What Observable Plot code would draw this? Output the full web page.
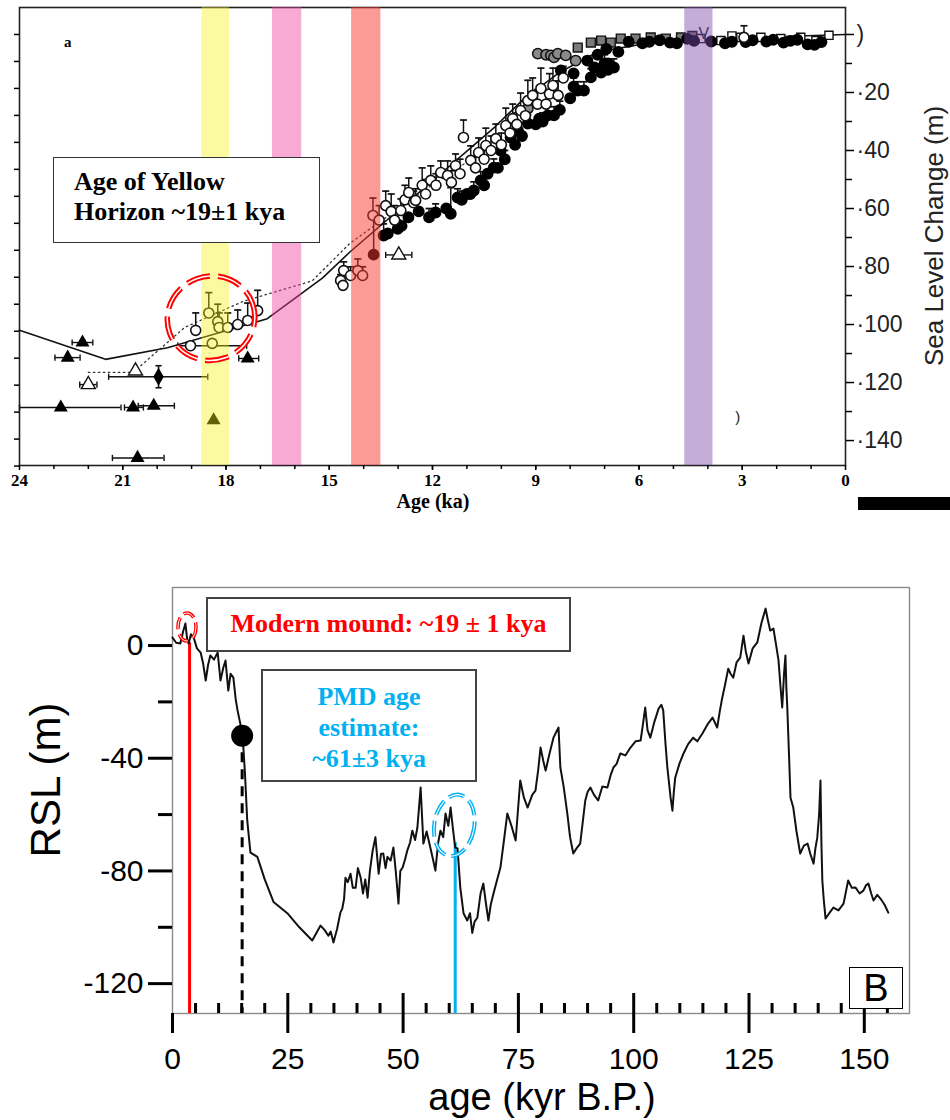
<!DOCTYPE html>
<html>
<head>
<meta charset="utf-8">
<script src="https://cdn.jsdelivr.net/npm/d3@7"></script>
<script src="https://cdn.jsdelivr.net/npm/@observablehq/plot@0.6"></script>
<style>
  html, body { margin: 0; padding: 0; background: #fff; }
  #page { position: relative; width: 950px; height: 1120px; overflow: hidden; }
  .layer { position: absolute; left: 0; }
  .note { position: absolute; box-sizing: border-box; background: #fff; font-family: "Liberation Serif", "Times New Roman", serif; font-weight: bold; }
  .txt { position: absolute; white-space: nowrap; }
</style>
</head>
<body>
<div id="page">
  <div id="topChart" class="layer" style="top:0"></div>
  <div id="bottomChart" class="layer" style="top:560px"></div>

  <div class="txt" style="left:64px;top:34px;font:bold 15px 'Liberation Serif',serif;">a</div>
  <div class="note" style="left:53px;top:157px;width:267px;height:86px;border:1.5px solid #333;padding:9px 0 0 20px;font-size:26px;line-height:30px;">Age of Yellow<br>Horizon ~19±1 kya</div>
  <div class="txt" style="left:433px;top:490px;transform:translateX(-50%);font:bold 20px 'Liberation Serif',serif;">Age (ka)</div>
  <div class="txt" style="left:934px;top:236px;transform:translate(-50%,-50%) rotate(-90deg);font:26px 'Liberation Sans',Arial,sans-serif;color:#222;">Sea Level Change (m)</div>
  <div style="position:absolute;left:858px;top:497px;width:92px;height:13px;background:#000;"></div>

  <div class="note" style="left:206px;top:597px;width:365px;height:55px;border:2px solid #444;color:#ff0000;font-size:26px;line-height:50px;text-align:center;">Modern mound: ~19 ± 1 kya</div>
  <div class="note" style="left:261px;top:669px;width:216px;height:113px;border:2px solid #444;color:#00b0f0;font-size:26px;line-height:31px;padding-top:10px;text-align:center;">PMD age<br>estimate:<br>~61±3 kya</div>
  <div style="position:absolute;left:849px;top:967px;width:54px;height:42px;box-sizing:border-box;border:1.5px solid #000;background:#fff;font:38px 'Liberation Sans',Arial,sans-serif;line-height:40px;text-align:center;">B</div>
  <div class="txt" style="left:46px;top:780px;transform:translate(-50%,-50%) rotate(-90deg);font:42px 'Liberation Sans',Arial,sans-serif;">RSL (m)</div>
  <div class="txt" style="left:542px;top:1076px;transform:translateX(-50%);font:38px 'Liberation Sans',Arial,sans-serif;">age (kyr B.P.)</div>
</div>

<script>
// ---------- Panel a: deglacial sea-level change (ka vs. metres below present) ----------
const ageTicks = [24, 21, 18, 15, 12, 9, 6, 3, 0];
const depthTicks = [0, 20, 40, 60, 80, 100, 120, 140];
const depthLabels = [")", "·20", "·40", "·60", "·80", "·100", "·120", "·140"];

// shaded event bands [from ka, to ka]
const bandYellow = [18.7, 17.9];
const bandPink = [16.65, 15.8];
const bandRed = [14.35, 13.5];
const bandPurple = [4.67, 3.85];

// piecewise model curve
const modelAge = [24, 21.5, 19.7, 16.8, 15.2, 14.4, 10.2, 9.4, 8.3, 7.2, 5.5, 2.5, 0];
const modelDepth = [102, 112, 108, 98, 84, 75, 32, 22.8, 13, 6, 2.5, 1, 0];

// dotted reference curve
const dottedAge = [22.0, 20.7, 19.2, 17.5, 15.5, 14.4, 13.7, 12.4, 11.0];
const dottedDepth = [116.5, 116.5, 101, 92, 85, 72, 66, 55, 44];

// open circles: [age, depth, upper error]
const openCircles = [
  [18.88, 102, 6], [18.5, 96, 7], [18.24, 99, 6], [18.2, 101, 5], [17.95, 101, 5],
  [17.66, 100, 5], [17.37, 98.6, 6], [17.08, 95.2, 7], [19.03, 107.3, 0], [18.4, 106.5, 0],
  [14.67, 84.8, 2], [14.58, 81.4, 3], [14.38, 83.1, 3], [14.17, 81.4, 4], [14.03, 83.1, 3], [14.6, 86.5, 0],
  [13.73, 62.4, 6], [13.55, 64, 5], [13.36, 59, 5], [13.2, 61, 6], [13.1, 64, 5], [12.92, 60.7, 4],
  [12.8, 57, 5], [12.69, 54.5, 5], [12.55, 58, 4], [12.49, 57.2, 4], [12.3, 52, 6], [12.2, 55, 5],
  [12.05, 50.3, 5], [11.9, 52, 4], [11.76, 47.6, 4], [11.56, 48.6, 5], [11.45, 51, 4], [11.33, 45.2, 4],
  [11.2, 48, 5], [11.1, 35.5, 6], [10.89, 43.4, 5], [10.75, 46, 4], [10.66, 40.7, 5], [10.5, 43, 4],
  [10.45, 38.3, 6], [10.3, 40, 5], [10.16, 35.9, 5], [10.0, 38, 4], [9.87, 31.4, 6], [9.75, 34, 5],
  [9.67, 29, 5], [9.55, 31, 4], [9.44, 26.2, 6], [9.3, 28, 5], [9.23, 22.8, 7], [9.09, 21, 6],
  [8.95, 24, 5], [8.85, 18.6, 7], [8.7, 24, 5], [8.6, 20.5, 7], [8.5, 17.6, 6], [8.35, 21, 5],
  [8.2, 15, 4], [2.95, 1, 4]
];

// filled circles: [age, depth, upper error]
const filledCircles = [
  [13.71, 75.9, 13], [13.42, 69.3, 4], [13.3, 68.6, 0], [13.01, 67, 3], [12.9, 66, 0], [12.7, 63, 0],
  [12.4, 61, 0], [12.1, 63, 3], [11.91, 61.4, 3], [11.6, 60, 0], [11.47, 61.8, 9], [11.27, 56.2, 3],
  [11.15, 57, 3], [11.0, 55, 0], [10.9, 55, 0], [10.8, 53.8, 3], [10.6, 50.3, 3], [10.5, 52, 0],
  [10.4, 48, 0], [10.22, 45.9, 3], [10.1, 46, 0], [10.02, 40, 3], [9.9, 43, 3], [9.73, 35.5, 3],
  [9.6, 38, 0], [9.52, 33.1, 3], [9.4, 35, 0], [9.23, 30.7, 3], [9.0, 31, 0], [8.9, 29, 0],
  [8.8, 30, 3], [8.65, 27.9, 3], [8.47, 27.9, 3], [8.3, 26, 3], [8.0, 22, 0], [7.9, 18, 3],
  [7.78, 19.3, 3], [7.6, 19.3, 3], [7.4, 14.8, 3], [7.1, 13.1, 3], [7.0, 10, 3], [6.73, 11.4, 3],
  [6.9, 12.2, 0], [8.27, 12.4, 0], [7.9, 13.4, 0], [7.3, 11.4, 0], [6.9, 10, 0], [7.5, 9, 0],
  [7.2, 7, 0], [6.95, 5, 0], [6.6, 6, 0], [6.3, 2.5, 0], [5.9, 3, 0], [5.7, 2.5, 0], [5.4, 2, 0],
  [5.1, 2.8, 0], [4.9, 3, 0], [4.6, 1.5, 0], [4.4, 2.2, 0], [3.9, 2.4, 0], [3.5, 3, 0], [3.3, 2.5, 0],
  [2.9, 2.6, 0], [2.7, 2, 0], [2.3, 2.4, 0], [2.1, 1.8, 0], [1.8, 2.8, 0], [1.6, 2.2, 0], [1.4, 1.8, 0],
  [1.1, 3.4, 0], [0.9, 3.6, 0], [0.7, 2.6, 0]
];

// grey circles: [age, depth]
const greyCircles = [[8.94, 6.6], [8.7, 7], [8.56, 7.2], [8.47, 7.9], [8.36, 6.6], [8.13, 7.2], [7.84, 9], [9.23, 25.5]];

// squares (grey and open): [age, depth]
const greySquares = [
  [7.78, 4.5], [7.4, 2.8], [7.1, 2.1], [6.82, 2.8], [6.53, 1.4], [6.1, 1.4],
  [5.66, 1], [5.22, 1.4], [4.78, 1], [4.45, 0.5]
];
const openSquares = [
  [4.2, 1.4], [3.62, 2.1], [3.3, 0.5], [3.04, 1], [2.46, 1], [1.88, 1.4],
  [1.3, 1], [0.86, 2.1], [0.48, 0.3]
];

// triangles: [age, depth]
const filledTriangles = [
  [22.17, 106.2], [22.6, 111.4], [22.8, 128.6], [20.7, 128.6], [20.1, 128],
  [20.57, 146], [17.37, 111.7], [18.36, 133]
];
const openTriangles = [[20.63, 116], [22.0, 120.7], [12.98, 76]];
const diamonds = [[19.96, 118]];

// horizontal (age) error bars: [depth, from age, to age]
const ageErrors = [
  [106.2, 22.47, 21.87], [111.4, 22.97, 22.24], [128.6, 24, 21.05], [128.6, 20.95, 20.4],
  [128, 20.55, 19.5], [146, 21.3, 19.8], [111.7, 17.63, 17.05], [120.7, 22.25, 21.75],
  [118, 21.41, 18.53], [107.3, 19.4, 17.4], [76, 13.36, 12.6]
];
// vertical error bar on the diamond: [age, lower depth, upper depth]
const depthErrors = [[19.96, 121.8, 114.2]];

// ---------- Panel B: relative sea level over the last glacial cycle ----------
const rslAge = [
  0, 0.8, 1.7, 2.3, 2.8, 3.2, 3.5, 4.0, 4.6, 5.3, 6.1, 6.6, 7.2, 7.7, 8.2, 9.0, 9.8, 10.4, 11.0, 11.5,
  12.1, 12.6, 13.2, 13.7, 14.1, 14.7, 15.2, 15.7, 16.2, 16.9, 18.4, 20, 21.9, 24.9, 27.5, 30.3, 31.2, 32.1, 33.0, 33.8,
  34.3, 34.9, 35.7, 36.4, 36.8, 37.2, 37.5, 38.0, 38.6, 39.1, 39.7, 40.2, 40.8, 41.3, 41.8, 42.3, 42.8, 43.4, 44.0, 44.7,
  45.2, 45.7, 46.2, 46.6, 47.3, 47.9, 48.4, 49.0, 49.4, 49.9, 50.4, 50.9, 51.5, 52.0, 52.6, 53.1, 53.8, 54.4, 55.1, 55.9,
  56.5, 57.0, 57.6, 58.1, 58.7, 59.2, 59.8, 60.3, 60.8, 61.3, 61.8, 62.4, 63.1, 63.9, 64.5, 65.0, 65.5, 66.1, 66.8, 67.4,
  68.0, 68.5, 69.0, 69.6, 70.4, 71.1, 71.8, 72.6, 73.5, 74.4, 75.4, 76.2, 77, 78.0, 78.7, 79.3, 79.8, 80.4, 80.9, 81.8,
  82.6, 83.7, 84.1, 84.8, 85.6, 86.2, 86.9, 87.6, 88.4, 89.0, 89.5, 90.0, 90.6, 91.4, 92.3, 93.2, 94.3, 95.0, 95.6, 96.3,
  97.1, 98.2, 99.3, 100.4, 101.5, 102.0, 102.5, 103.0, 103.6, 104.5, 105.4, 106.0, 106.4, 106.9, 107.3, 108.0, 108.4, 108.7, 109, 109.9,
  110.8, 111.8, 112.9, 113.8, 114.9, 116.0, 117.1, 118.1, 118.7, 119.2, 119.8, 120.5, 121.0, 121.6, 122.3, 123.1, 123.8, 124.3, 124.9, 125.8,
  126.8, 127.7, 128.6, 129.1, 129.6, 130.3, 130.9, 131.4, 131.8, 132.2, 132.6, 132.9, 133.1, 133.3, 133.7, 134, 134.6, 135.3, 136.1, 136.9,
  137.7, 138.3, 139, 139.4, 139.8, 140.2, 140.5, 140.7, 140.9, 141.2, 141.6, 142.4, 143.3, 144.4, 145.5, 146.5, 147.3, 148.1, 149.0, 149.8,
  150.4, 150.9, 151.5, 152, 152.8, 153.5, 154.4, 155.2
];
const rslLevel = [
  2.8, 1, 0.7, 5, 7.8, 2, 0.7, 4, 2.8, -1, -2.5, -6, -12.4, -7, -3.5, -5, -2.5, -12.4, -8, -5.3,
  -16, -10, -11.4, -19, -23, -27.7, -32, -45, -62, -73.5, -75, -83, -91, -95, -100, -104.7, -102, -99.4, -101, -103,
  -101.5, -105.4, -100.5, -94.8, -93.4, -90, -82.4, -84, -81, -86, -86, -79, -82.4, -88, -83, -89.5, -80, -72.8, -68, -81,
  -74, -73.8, -79, -75, -76.3, -71.7, -80, -91.6, -80, -78.8, -76, -72.8, -70, -65.7, -69, -64.6, -50.4, -70.3, -66, -71.7,
  -76, -79.9, -70, -65.7, -68, -59.6, -64, -57.5, -65, -71.7, -72, -85.9, -95, -97.6, -95, -102, -98, -96.6, -88, -84.5,
  -92, -97.6, -92, -88, -83, -78.8, -70, -59.6, -64, -69.2, -47.9, -54, -57.5, -53, -51.5, -44, -36.2, -41, -44.4, -38,
  -32.7, -29.1, -43.3, -50, -59.6, -68, -73.8, -72, -70.3, -62, -55, -52, -50.4, -53, -55, -50, -50.4, -46, -43.3, -42,
  -38.3, -39, -36.2, -34, -33.7, -28, -22, -30, -32.7, -27, -22.4, -21, -23, -35, -43.3, -54, -58.6, -52, -46.9, -42,
  -38.3, -35, -32.7, -34, -31.2, -28, -25.6, -29.1, -23, -18.5, -14, -8.2, -10, -11.4, -6, -4.3, 3.5, -2, -6.4, -1,
  1.1, 8, 13.1, 9, 5.3, 6, 0, -5.3, -14, -22, -10, -3.5, -15, -22, -40, -54, -57.5, -66, -73.8, -71,
  -70.3, -74, -77.4, -72, -68.2, -60, -47.9, -70, -83.4, -90, -96.9, -95, -93, -94, -91.6, -83.4, -86, -85.9, -88, -87,
  -85, -84.5, -88, -90.5, -88.5, -89.8, -92, -94.8
];
const ageMajor = [0, 25, 50, 75, 100, 125, 150];
const rslMajor = [0, -40, -80, -120];
const rslMinor = [-20, -60, -100];

// dated markers
const modernMound = { age: 3.7, top: 1 };          // red line
const deglacialPoint = { age: 15.1, rsl: -32 };     // black dot + dashed line
const pmdAge = { age: 61.3, top: -70 };             // blue line

// ---------- helpers ----------
const serif = "'Liberation Serif', 'Times New Roman', serif";
const sans = "'Liberation Sans', Arial, sans-serif";
const hCap = { draw(ctx, size) { const w = Math.sqrt(size) / 2; ctx.moveTo(-w, 0); ctx.lineTo(w, 0); } };
const vCap = { draw(ctx, size) { const w = Math.sqrt(size) / 2; ctx.moveTo(0, -w); ctx.lineTo(0, w); } };
const pairs = (a, b) => a.map((v, i) => [v, b[i]]);

function dashedEllipse(plot, cx, cy, rx, ry, color, dash, width, angle) {
  const X = plot.scale("x").apply(cx), Y = plot.scale("y").apply(cy);
  const g = d3.select(plot).append("g").attr("transform", `rotate(${angle} ${X} ${Y})`);
  g.append("ellipse").attr("cx", X).attr("cy", Y).attr("rx", rx).attr("ry", ry)
    .attr("fill", "none").attr("stroke", color).attr("stroke-width", width).attr("stroke-dasharray", dash);
  g.append("ellipse").attr("cx", X).attr("cy", Y).attr("rx", rx).attr("ry", ry)
    .attr("fill", "none").attr("stroke", "#fff").attr("stroke-width", width * 0.28).attr("stroke-dasharray", dash);
}

const withErr = (arr) => arr.filter(d => d[2] > 0);
const band = (b, color, alpha) => Plot.rect([b], { x1: d => d[0], x2: d => d[1], fill: color, fillOpacity: alpha });

// ---------- panel a ----------
const topPlot = Plot.plot({
  width: 950, height: 520,
  marginLeft: 19, marginRight: 105, marginTop: 7, marginBottom: 55,
  x: { domain: [24, 0] },
  y: { domain: [148.6, -9.3] },
  style: { background: "transparent", overflow: "visible" },
  marks: [
    Plot.frame({ stroke: "#222", strokeWidth: 1.6 }),
    Plot.axisY({ anchor: "left", ticks: d3.range(0, 17).map(i => i * 9.3), tickSize: 5, strokeWidth: 1.5, tickFormat: () => "", label: null }),
    Plot.axisX({ ticks: ageTicks, tickSize: 5, strokeWidth: 1.5, tickPadding: 3, fontSize: 17, fontWeight: "bold", fontFamily: serif, tickFormat: d => String(d), label: null }),
    Plot.axisX({ ticks: d3.range(1, 24), tickSize: 4, strokeWidth: 1.5, tickFormat: () => "", label: null }),
    Plot.axisY({ anchor: "right", ticks: depthTicks, tickSize: 8, strokeWidth: 1.5, tickPadding: 3, fontSize: 23, fontFamily: sans, fill: "#222", tickFormat: d => depthLabels[depthTicks.indexOf(d)], label: null }),
    Plot.axisY({ anchor: "right", ticks: [10, 30, 50, 70, 90, 110, 130], tickSize: 6, strokeWidth: 1.5, tickFormat: () => "", label: null }),

    // curves
    Plot.line(pairs(modelAge, modelDepth), { x: d => d[0], y: d => d[1], stroke: "#111", strokeWidth: 1.6 }),
    Plot.line(pairs(dottedAge, dottedDepth), { x: d => d[0], y: d => d[1], stroke: "#333", strokeWidth: 1.3, strokeDasharray: "1.5 3.5" }),

    // error bars
    Plot.ruleY(ageErrors, { y: d => d[0], x1: d => d[1], x2: d => d[2], stroke: "#111", strokeWidth: 1.4 }),
    Plot.dot(ageErrors, { x: d => d[1], y: d => d[0], symbol: vCap, r: 3.5, stroke: "#111", strokeWidth: 1.4 }),
    Plot.dot(ageErrors, { x: d => d[2], y: d => d[0], symbol: vCap, r: 3.5, stroke: "#111", strokeWidth: 1.4 }),
    Plot.ruleX(depthErrors, { x: d => d[0], y1: d => d[1], y2: d => d[2], stroke: "#111", strokeWidth: 1.6 }),
    Plot.dot(depthErrors, { x: d => d[0], y: d => d[2], symbol: hCap, r: 3.5, stroke: "#111", strokeWidth: 1.6 }),
    Plot.dot(depthErrors, { x: d => d[0], y: d => d[1], symbol: hCap, r: 3.5, stroke: "#111", strokeWidth: 1.6 }),
    Plot.ruleX(withErr(openCircles), { x: d => d[0], y1: d => d[1], y2: d => d[1] - d[2], stroke: "#111", strokeWidth: 1.5 }),
    Plot.dot(withErr(openCircles), { x: d => d[0], y: d => d[1] - d[2], symbol: hCap, r: 4, stroke: "#111", strokeWidth: 1.7 }),
    Plot.ruleX(withErr(filledCircles), { x: d => d[0], y1: d => d[1], y2: d => d[1] - d[2], stroke: "#111", strokeWidth: 1.5 }),
    Plot.dot(withErr(filledCircles), { x: d => d[0], y: d => d[1] - d[2], symbol: hCap, r: 4, stroke: "#111", strokeWidth: 1.7 }),

    // data points
    Plot.dot(greySquares, { x: d => d[0], y: d => d[1], symbol: "square", r: 5, fill: "#7a7a7a", stroke: "#111", strokeWidth: 1.4 }),
    Plot.dot(openSquares, { x: d => d[0], y: d => d[1], symbol: "square", r: 4.6, fill: "#fff", stroke: "#111", strokeWidth: 1.4 }),
    Plot.dot(filledCircles, { x: d => d[0], y: d => d[1], r: 5.2, fill: "#000", stroke: "#000" }),
    Plot.dot(greyCircles, { x: d => d[0], y: d => d[1], r: 5.2, fill: "#8a8a8a", stroke: "#111", strokeWidth: 1.5 }),
    Plot.dot(openCircles, { x: d => d[0], y: d => d[1], r: 5, fill: "#fff", stroke: "#111", strokeWidth: 1.6 }),
    Plot.dot(filledTriangles, { x: d => d[0], y: d => d[1], symbol: "triangle", r: 5.2, fill: "#000" }),
    Plot.dot(openTriangles, { x: d => d[0], y: d => d[1], symbol: "triangle", r: 5.2, fill: "#fff", stroke: "#111", strokeWidth: 1.4 }),
    Plot.dot(diamonds, { x: d => d[0], y: d => d[1], symbol: "diamond", r: 5.5, fill: "#000" }),
    Plot.text([[4.12, -0.3]], { x: d => d[0], y: d => d[1], text: () => "V", fontSize: 16, fontFamily: sans, fill: "#222" }),
    Plot.text([[3.13, 132]], { x: d => d[0], y: d => d[1], text: () => ")", fontSize: 15, fontFamily: sans, fill: "#222" }),

    // translucent event bands over the data
    band(bandYellow, "rgb(245,242,17)", 0.4),
    band(bandPink, "rgb(240,67,160)", 0.45),
    band(bandRed, "rgb(245,55,45)", 0.5),
    band(bandPurple, "rgb(124,76,171)", 0.45)
  ]
});
document.getElementById("topChart").appendChild(topPlot);
dashedEllipse(topPlot, 18.42, 98, 44, 42, "#ff0000", "24 8", 5.5, -20);

// ---------- panel B ----------
const bottomPlot = Plot.plot({
  width: 950, height: 560,
  marginLeft: 172, marginRight: 41, marginTop: 27, marginBottom: 107,
  x: { domain: [0, 159.8] },
  y: { domain: [-130.6, 20.6] },
  style: { background: "transparent", overflow: "visible" },
  marks: [
    Plot.frame({ stroke: "#8a8a8a", strokeWidth: 1.4 }),
    Plot.axisY({ ticks: rslMajor, tickSize: 24, tickPadding: 5, strokeWidth: 3, fontSize: 30, fontFamily: sans, tickFormat: d => String(d), label: null }),
    Plot.axisY({ ticks: rslMinor, tickSize: 14, strokeWidth: 3, tickFormat: () => "", label: null }),
    Plot.axisX({ ticks: ageMajor, tickSize: 20, tickPadding: 14, strokeWidth: 3, fontSize: 30, fontFamily: sans, tickFormat: d => String(d), label: null }),
    Plot.axisX({ ticks: ageMajor.filter(v => v > 0), tickSize: -20, strokeWidth: 3, tickFormat: () => "", label: null }),
    Plot.axisX({ ticks: d3.range(5, 160, 5).filter(v => v % 25 !== 0), tickSize: -10, strokeWidth: 3, tickFormat: () => "", label: null }),

    Plot.ruleX([modernMound], { x: "age", y1: "top", y2: -130.6, stroke: "#ff0000", strokeWidth: 3 }),
    Plot.ruleX([deglacialPoint], { x: "age", y1: "rsl", y2: -130.6, stroke: "#000", strokeWidth: 3, strokeDasharray: "10 7" }),
    Plot.ruleX([pmdAge], { x: "age", y1: "top", y2: -130.6, stroke: "#00b0f0", strokeWidth: 3 }),
    Plot.line(pairs(rslAge, rslLevel), { x: d => d[0], y: d => d[1], stroke: "#111", strokeWidth: 2 }),
    Plot.dot([deglacialPoint], { x: "age", y: "rsl", r: 11, fill: "#000" })
  ]
});
document.getElementById("bottomChart").appendChild(bottomPlot);
dashedEllipse(bottomPlot, 3.25, 6.4, 9, 14, "#ff0000", "12 5", 3.5, 0);
dashedEllipse(bottomPlot, 61.2, -64, 20, 31, "#00b0f0", "16 6", 4, 10);
</script>
</body>
</html>
